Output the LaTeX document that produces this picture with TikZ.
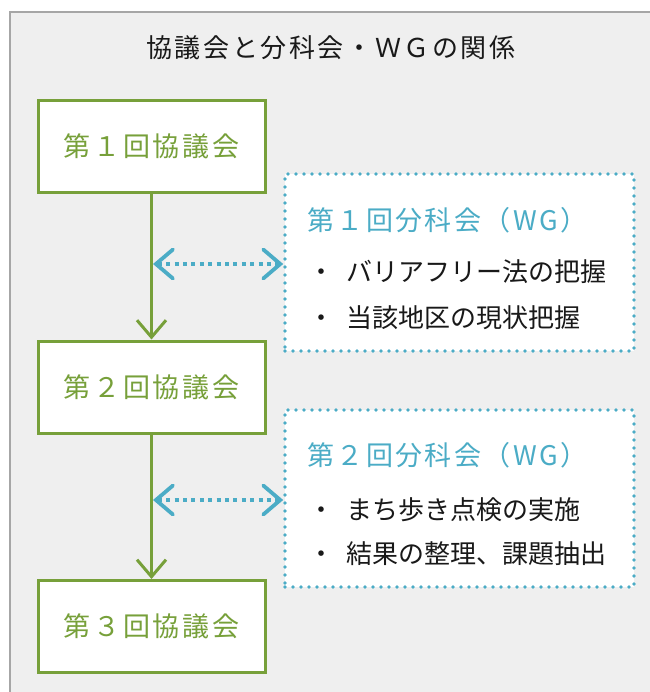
\documentclass[tikz,border=0pt]{standalone}
\usepackage{fontspec}
\setmainfont{Noto Sans CJK JP}
\newfontfamily\wide[LetterSpace=10]{Noto Sans CJK JP}
\newfontfamily\snug[LetterSpace=9]{Noto Sans CJK JP}
\usetikzlibrary{arrows.meta,positioning}
\definecolor{kgreen}{HTML}{77A03A}
\definecolor{wblue}{HTML}{4BACC6}
\definecolor{panelgray}{HTML}{EFEFEF}
\tikzset{
  kyogi/.style={draw=kgreen, line width=3pt, fill=white, minimum width=227pt,
    minimum height=92pt, inner sep=0pt, text=kgreen, font=\fontsize{27}{27}\wide},
  wgbox/.style={draw=wblue, line width=3.6pt, fill=white, line cap=round,
    dash pattern=on 0pt off 8pt, minimum width=349pt, minimum height=177pt, inner sep=0pt},
  wgtitle/.style={anchor=west, inner sep=0pt, text=wblue, font=\fontsize{27}{27}\snug},
  item/.style={anchor=west, inner sep=0pt, text=black!90, font=\fontsize{26}{26}\selectfont},
  flow/.style={draw=kgreen, line width=3pt, -{Straight Barb[length=17pt,width=29pt,line width=3pt]}},
  link/.style={draw=wblue, line width=3.8pt, dash pattern=on 4pt off 4.4pt,
    {Straight Barb[length=17pt,width=29pt,line width=3.8pt,line cap=round]}-{Straight Barb[length=17pt,width=29pt,line width=3.8pt,line cap=round]}}
}

\begin{document}
\begin{tikzpicture}[x=1pt,y=-1pt]
    \useasboundingbox (0,0) rectangle (649,692);
    % panel
    \fill[panelgray] (10,12) rectangle (660,700);
    \draw[draw=gray!70, line width=1.5pt] (10,700) -- (10,12) -- (660,12);
    \node(title)[inner sep=0pt, text=black!90, font=\fontsize{26}{26}\wide] at (331,48) {協議会と分科会・ＷＧの関係};

    % 協議会
    \node(c1)[kyogi] at (151.5,146.5) {第１回協議会};
    \node(c2)[kyogi] at (151.5,387) {第２回協議会};
    \node(c3)[kyogi] at (151.5,626.5) {第３回協議会};
    \draw[flow] (c1) -- (c2);
    \draw[flow] (c2) -- (c3);

    % 分科会（WG）
    \node(w1)[wgbox] at (459.5,262.5) {};
    \node(w1t)[wgtitle] at (307,220) {第１回分科会（WG）};
    \node(w1a)[item] at (308,272) {・\hspace{12pt}バリアフリー法の把握};
    \node(w1b)[item] at (308,318) {・\hspace{12pt}当該地区の現状把握};

    \node(w2)[wgbox] at (459.5,498.5) {};
    \node(w2t)[wgtitle] at (307,455) {第２回分科会（WG）};
    \node(w2a)[item] at (308,510) {・\hspace{12pt}まち歩き点検の実施};
    \node(w2b)[item] at (308,554) {・\hspace{12pt}結果の整理、課題抽出};

    \coordinate(l1) at (153,264);
    \coordinate(l2) at (153,500);
    \draw[link] (l1) -- (l1 -| w1.west);
    \draw[link] (l2) -- (l2 -| w2.west);
\end{tikzpicture}
\end{document}
